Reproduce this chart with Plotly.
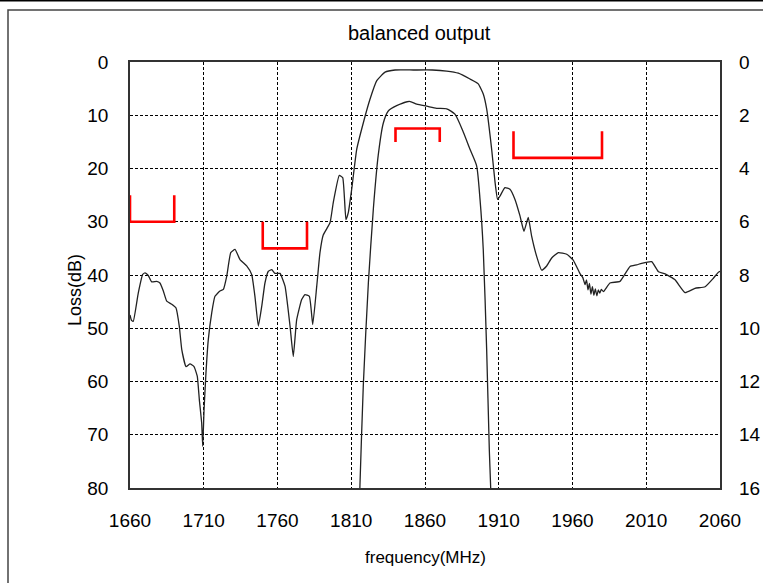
import plotly.graph_objects as go

# ---------------- data ----------------
freq_wide = [1660, 1661, 1662.2, 1665.6, 1668.6, 1670.2, 1672.4, 1674.7, 1678.1, 1680.3,
             1682.6, 1684.9, 1688.3, 1691.2, 1693.4, 1695.1, 1698.0, 1700.7, 1703.4, 1705.6,
             1707.0, 1708.6, 1709.3, 1710.2, 1711.5, 1713.1, 1715.4, 1717.6, 1721.0, 1723.3,
             1725.6, 1728.3, 1731.2, 1734.6, 1739.1, 1742.5, 1744.7, 1747.0, 1749.3, 1751.5,
             1753.8, 1756.1, 1758.3, 1761.7, 1765.1, 1768.5, 1770.7, 1773.0, 1776.4, 1778.6,
             1781.6, 1783.9, 1786.6, 1788.8, 1791.0, 1795.6, 1797.8, 1801.9, 1804.2, 1806.4,
             1808.0, 1810.3, 1813.7, 1818.2, 1822.7, 1827.3, 1832.9, 1839.7, 1852.1, 1865.0,
             1874.7, 1882.6, 1890.5, 1896.1, 1899.5, 1901.8, 1905.2, 1907.5, 1909.2, 1910.8,
             1914.2, 1917.6, 1921.0, 1924.4, 1927.1, 1930.0, 1932.3, 1935.7, 1939.1, 1942.5,
             1945.9, 1950.4, 1956.1, 1960.5, 1965.0, 1967.0, 1968.5, 1969.5, 1970.5, 1971.5,
             1972.5, 1973.5, 1974.5, 1975.5, 1976.5, 1977.5, 1978.5, 1979.5, 1981.0, 1985.4,
             1992.2, 1999.0, 2003.5, 2006.9, 2013.7, 2018.3, 2022.8, 2029.5, 2036.3, 2043.0,
             2049.9, 2055.5, 2058.5, 2060]
loss_wide = [47.5, 48.5, 48.7, 43.4, 39.9, 39.6, 40.1, 41.3, 41.2, 41.5,
             43.0, 44.9, 45.5, 46.2, 49.6, 54.0, 57.2, 56.7, 57.2, 59.0,
             63.4, 67.8, 72.2, 65.3, 58.4, 52.1, 47.1, 44.0, 43.0, 42.7,
             40.2, 35.8, 35.2, 37.1, 38.3, 39.9, 44.0, 49.6, 45.9, 41.5,
             39.3, 39.0, 39.7, 39.7, 42.1, 49.6, 55.3, 48.4, 44.6, 43.7,
             44.0, 49.3, 42.1, 35.8, 32.5, 30.2, 26.4, 21.3, 21.7, 29.6,
             28.3, 23.9, 16.4, 11.4, 7.0, 3.5, 1.9, 1.5, 1.5, 1.5,
             1.7, 2.1, 3.2, 4.1, 6.0, 8.8, 16.4, 22.6, 25.8, 25.2,
             23.6, 23.9, 25.8, 28.9, 31.8, 29.2, 32.7, 36.5, 39.1, 38.3,
             36.8, 35.8, 36.1, 37.2, 39.7, 40.5, 41.8, 40.9, 42.8, 41.6,
             43.6, 42.2, 43.8, 42.6, 43.9, 42.8, 43.4, 42.7, 43.1, 41.5,
             41.2, 38.4, 38.1, 37.8, 37.5, 39.4, 39.8, 40.9, 43.3, 42.5,
             42.2, 40.6, 39.6, 39.3]

freq_pass = [1815.3, 1815.9, 1818.2, 1821.6, 1825.0, 1828.3, 1831.7, 1835.1, 1840.8, 1849.4,
             1854.4, 1861.2, 1867.9, 1874.7, 1880.3, 1886.0, 1890.5, 1895.0, 1897.3, 1899.5,
             1901.8, 1903.6, 1904.5, 1905.0]
loss_pass = [17.0, 15.9, 12.1, 8.3, 5.5, 3.5, 2.3, 1.84, 1.64, 1.48,
             1.58, 1.66, 1.74, 1.76, 1.96, 2.64, 3.28, 3.9, 5.16, 7.04,
             10.8, 14.56, 15.94, 17.0]

# specification masks (left axis, dB)
spec_start = [1660, 1750, 1840, 1920]
spec_end = [1690, 1780, 1870, 1980]
spec_level = [30, 35, 12.5, 18]
spec_tip = [25, 30, 15, 13]

x_ticks = [1660, 1710, 1760, 1810, 1860, 1910, 1960, 2010, 2060]
y_ticks = [0, 10, 20, 30, 40, 50, 60, 70, 80]
y2_ticks = [0, 2, 4, 6, 8, 10, 12, 14, 16]

# ---------------- figure ----------------
FONT = "Liberation Sans, Arial, sans-serif"
fig = go.Figure()

for s, e, lv, tp in zip(spec_start, spec_end, spec_level, spec_tip):
    fig.add_trace(go.Scatter(x=[s, s, e, e], y=[tp, lv, lv, tp], mode="lines",
                             line=dict(color="#ff0000", width=2.6), showlegend=False,
                             hoverinfo="skip"))

fig.add_trace(go.Scatter(x=freq_wide, y=loss_wide, mode="lines",
                         line=dict(color="#222222", width=1.3, shape="spline", smoothing=0.4),
                         showlegend=False))
fig.add_trace(go.Scatter(x=freq_pass, y=loss_pass, mode="lines", yaxis="y2",
                         line=dict(color="#222222", width=1.3, shape="spline", smoothing=0.6),
                         showlegend=False))

grid = dict(showgrid=True, gridcolor="#000000", gridwidth=1, griddash="3px,2px")
fig.update_layout(
    width=763, height=583,
    margin=dict(l=130, r=43, t=62, b=95, autoexpand=False),
    paper_bgcolor="white", plot_bgcolor="white",
    font=dict(family=FONT, color="#000000", size=19),
    xaxis=dict(range=[1660, 2060], tickvals=x_ticks, ticktext=[str(v) for v in x_ticks],
               showline=True, linecolor="#333333", linewidth=1.5, mirror=True,
               ticks="", ticklabelstandoff=14, zeroline=False, automargin=False, **grid),
    yaxis=dict(range=[80, 0], tickvals=y_ticks, showline=True, linecolor="#333333",
               linewidth=1.5, mirror=True, ticks="", ticklabelstandoff=16,
               zeroline=False, automargin=False, **grid),
    yaxis2=dict(range=[16, 0], tickvals=y2_ticks, overlaying="y", side="right",
                showgrid=False, zeroline=False, ticks="", ticklabelstandoff=18,
                showline=False, automargin=False),
    showlegend=False,
)

fig.add_annotation(text="balanced output", xref="paper", yref="paper", x=0.49, y=1.068,
                   showarrow=False, font=dict(size=20), xanchor="center", yanchor="middle")
fig.add_annotation(text="frequency(MHz)", xref="paper", yref="paper", x=0.5, y=-0.164,
                   showarrow=False, font=dict(size=17), xanchor="center", yanchor="middle")
fig.add_annotation(text="Loss(dB)", xref="paper", yref="paper", x=-0.093, y=0.465,
                   textangle=-90, showarrow=False, font=dict(size=18),
                   xanchor="center", yanchor="middle")

# outer chart frame
fig.add_shape(type="rect", xref="paper", yref="paper",
              x0=(8 - 130) / 590, x1=(775 - 130) / 590,
              y0=(488 - 595) / 426, y1=(488 - 10) / 426,
              line=dict(color="#444444", width=1.5), layer="below")
fig.add_shape(type="line", xref="paper", yref="paper",
              x0=-1, x1=2, y0=(488 - 0.5) / 426, y1=(488 - 0.5) / 426,
              line=dict(color="#000000", width=2))

fig.write_html("out.html", config={"displayModeBar": False},
               post_script="document.body.style.margin='0';document.body.style.overflow='hidden';")
